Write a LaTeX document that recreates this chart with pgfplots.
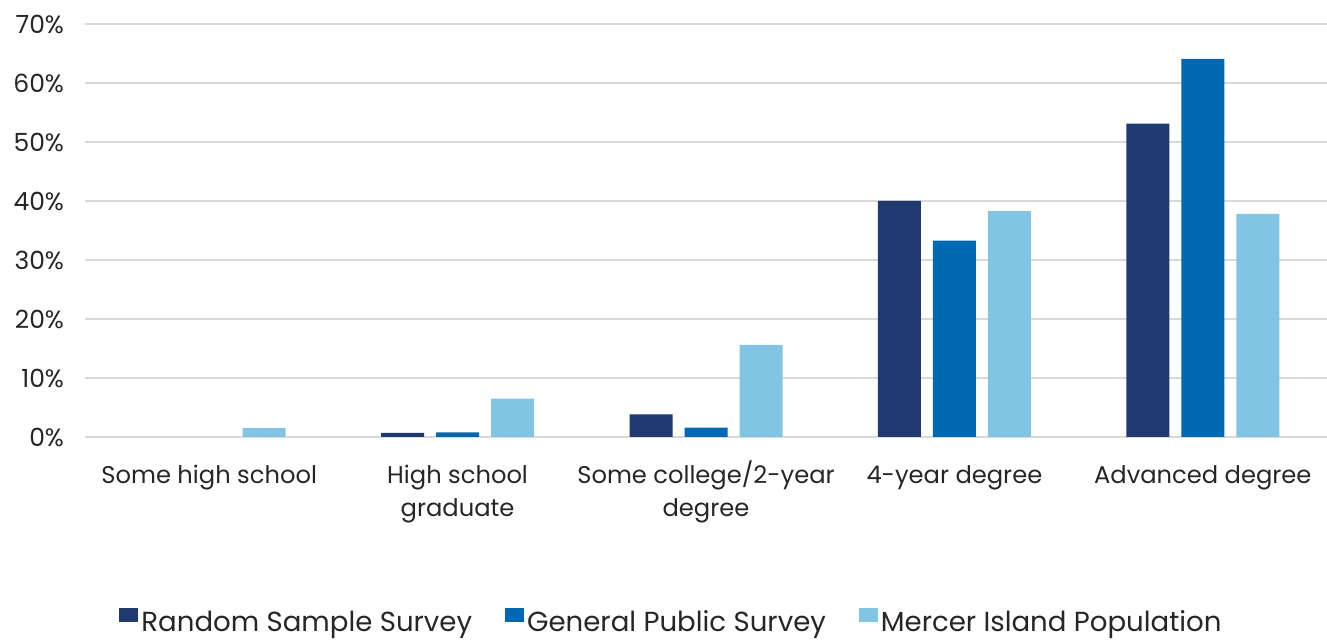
\documentclass[border=0pt]{standalone}
\usepackage{fontspec}
\setmainfont{Poppins}
\usepackage{pgfplots}
\pgfplotsset{compat=1.18}
\definecolor{cA}{RGB}{31,58,112}
\definecolor{cB}{RGB}{0,104,178}
\definecolor{cC}{RGB}{130,196,228}
\definecolor{gridc}{RGB}{217,217,217}
\begin{document}
\begin{tikzpicture}
\begin{axis}[
  scale only axis,
  width=621pt, height=206.5pt,
  ymin=0, ymax=70,
  xmin=-0.5, xmax=4.5,
  ytick={0,10,...,70},
  yticklabel={\pgfmathprintnumber{\tick}\%},
  /pgf/number format/assume math mode=true,
  xtick={0,1,2,3,4},
  xticklabels={\strut Some high school,\strut High school\\\strut graduate,\strut Some college/2-year\\\strut degree,\strut 4-year degree,\strut Advanced degree},
  xticklabel style={align=center, anchor=north, font=\fontsize{12.1}{16.5}\selectfont, text=black!85, yshift=-8pt},
  yticklabel style={font=\fontsize{12.5}{14}\selectfont, text=black!85, xshift=-7pt},
  major tick length=0pt,
  ymajorgrids,
  grid style={gridc, line width=0.9pt},
  axis line style={draw=none},
  axis x line*=bottom,
  x axis line style={draw=gridc, line width=0.9pt},
  ybar, bar width=21.5pt,
  legend style={at={(0.4726,-0.449)}, anchor=center, draw=none, legend columns=3,
    font=\fontsize{13.8}{16}\selectfont, text=black!85,
    nodes={inner xsep=1.5pt},
    /tikz/every odd column/.append style={column sep=0pt},
    /tikz/every even column/.append style={column sep=15pt}},
  legend image code/.code={\fill[#1] (0pt,0pt) rectangle (9.5pt,7pt);},
  clip=false,
]
\addplot[fill=cA, draw=none, bar shift=-27.5pt] coordinates {(1,0.7) (2,3.85) (3,40.0) (4,53.1)};
\addplot[fill=cB, draw=none, bar shift=0pt] coordinates {(1,0.8) (2,1.6) (3,33.3) (4,64.1)};
\addplot[fill=cC, draw=none, bar shift=27.5pt] coordinates {(0,1.5) (1,6.5) (2,15.6) (3,38.3) (4,37.8)};
\legend{Random Sample Survey,General Public Survey,Mercer Island Population}
\coordinate (O) at (rel axis cs:0,0);
\end{axis}
\pgfresetboundingbox
\path (O) ++(-42.5pt,-102pt) rectangle ++(663.5pt,320.5pt);
\end{tikzpicture}
\end{document}
